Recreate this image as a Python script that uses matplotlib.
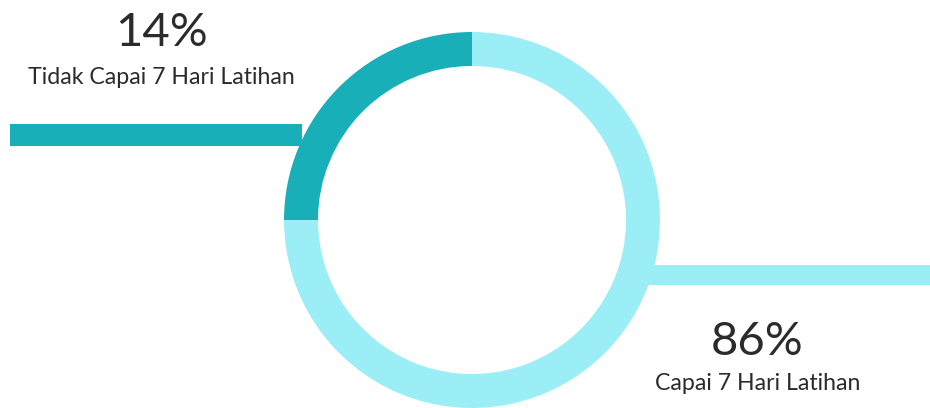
import matplotlib.pyplot as plt
from matplotlib.patches import Wedge, Rectangle

# nilai yang tertulis di gambar
labels = ['Tidak Capai 7 Hari Latihan', 'Capai 7 Hari Latihan']
pct = [14, 86]
# porsi busur yang tergambar di gambar (seperempat lingkaran gelap)
arc_share = [25, 75]
colors = ['#19AFB9', '#9BEEF5']
text_color = '#2b2b2b'

plt.rcParams['font.family'] = ['Lato', 'DejaVu Sans']

fig = plt.figure(figsize=(9.3, 4.08), dpi=100)
ax = fig.add_axes([0, 0, 1, 1])
ax.set_xlim(0, 930)
ax.set_ylim(0, 408)
ax.set_aspect('equal')
ax.axis('off')

# garis penghubung
ax.add_patch(Rectangle((10, 262), 292, 22, color=colors[0], lw=0))
ax.add_patch(Rectangle((645, 123), 285, 20, color=colors[1], lw=0))

# cincin donat
cx, cy, r, w = 472, 188, 188, 34
start = 90
for share, c in zip(arc_share, colors):
    end = start + share * 3.6
    ax.add_patch(Wedge((cx, cy), r, start, end, width=w, color=c, lw=0))
    start = end

# teks
ax.text(162, 375, f'{pct[0]}%', ha='center', va='center', fontsize=34, color=text_color)
ax.text(161, 331, labels[0], ha='center', va='center', fontsize=16.7, color=text_color)
ax.text(757, 66, f'{pct[1]}%', ha='center', va='center', fontsize=34, color=text_color)
ax.text(758, 24, labels[1], ha='center', va='center', fontsize=16.7, color=text_color)

plt.savefig('out.png', dpi=100)
